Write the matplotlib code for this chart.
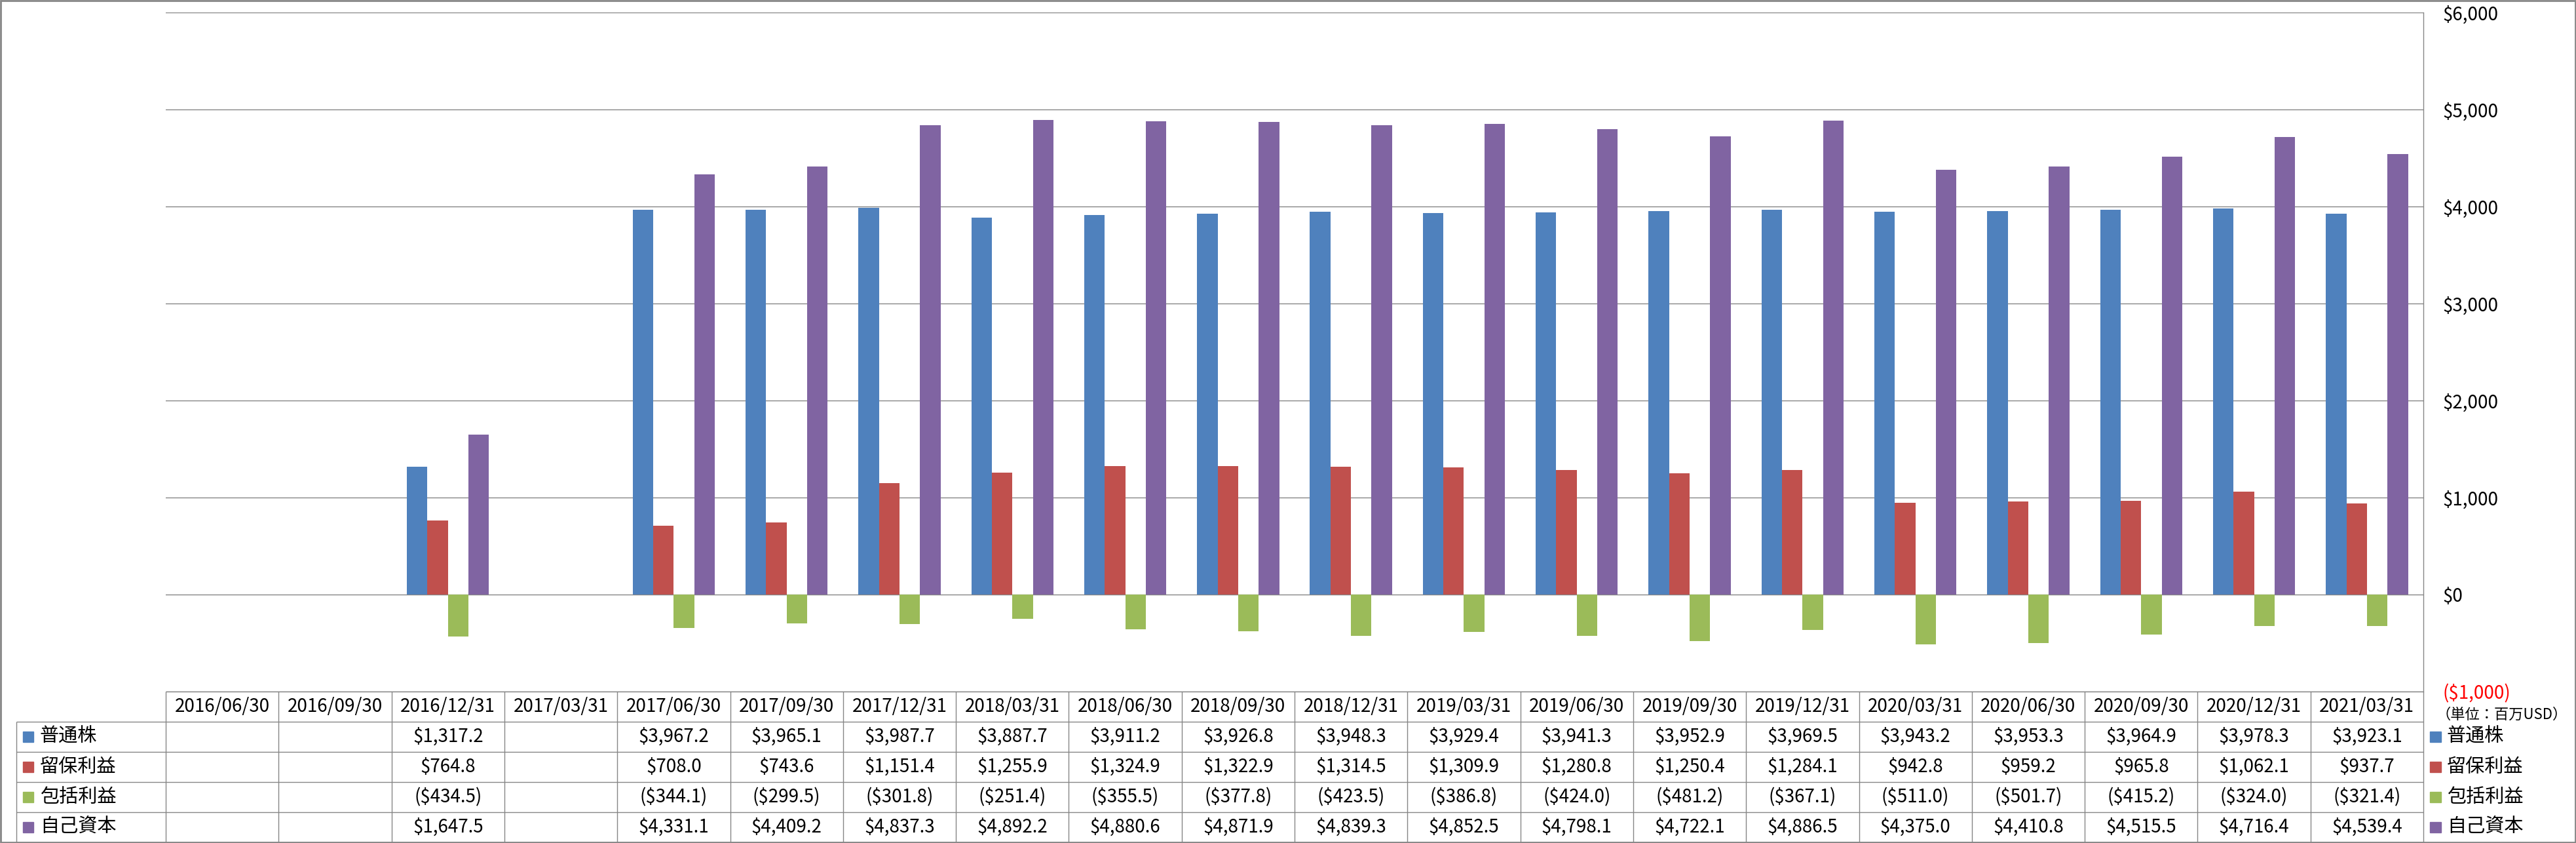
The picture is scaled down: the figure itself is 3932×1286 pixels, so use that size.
import numpy as np
import matplotlib.pyplot as plt
from matplotlib.ticker import FuncFormatter
from matplotlib.patches import Rectangle

plt.rcParams['font.family'] = ['Noto Sans CJK JP', 'DejaVu Sans']
plt.rcParams['text.parse_math'] = False

# データ (単位: 百万USD)
dates = ['2016/06/30', '2016/09/30', '2016/12/31', '2017/03/31', '2017/06/30',
         '2017/09/30', '2017/12/31', '2018/03/31', '2018/06/30', '2018/09/30',
         '2018/12/31', '2019/03/31', '2019/06/30', '2019/09/30', '2019/12/31',
         '2020/03/31', '2020/06/30', '2020/09/30', '2020/12/31', '2021/03/31']
nan = np.nan
common_stock = [nan, nan, 1317.2, nan, 3967.2, 3965.1, 3987.7, 3887.7, 3911.2, 3926.8,
                3948.3, 3929.4, 3941.3, 3952.9, 3969.5, 3943.2, 3953.3, 3964.9, 3978.3, 3923.1]
retained = [nan, nan, 764.8, nan, 708.0, 743.6, 1151.4, 1255.9, 1324.9, 1322.9,
            1314.5, 1309.9, 1280.8, 1250.4, 1284.1, 942.8, 959.2, 965.8, 1062.1, 937.7]
comprehensive = [nan, nan, -434.5, nan, -344.1, -299.5, -301.8, -251.4, -355.5, -377.8,
                 -423.5, -386.8, -424.0, -481.2, -367.1, -511.0, -501.7, -415.2, -324.0, -321.4]
equity = [nan, nan, 1647.5, nan, 4331.1, 4409.2, 4837.3, 4892.2, 4880.6, 4871.9,
          4839.3, 4852.5, 4798.1, 4722.1, 4886.5, 4375.0, 4410.8, 4515.5, 4716.4, 4539.4]

series_names = ['普通株', '留保利益', '包括利益', '自己資本']
series = [common_stock, retained, comprehensive, equity]
colors = ['#4F81BD', '#C0504D', '#9BBB59', '#8064A2']
yticks = [-1000, 0, 1000, 2000, 3000, 4000, 5000, 6000]

GRAY = '#868686'
W, H = 3932, 1286


def px(x0, y0, x1, y1):
    # ピクセル座標の箱 -> figure座標
    return [x0 / W, 1 - y1 / H, (x1 - x0) / W, (y1 - y0) / H]


def money(v, pos=None):
    if np.isnan(v):
        return ''
    if v < 0:
        return '(${:,.1f})'.format(-v) if pos is None else '(${:,.0f})'.format(-v)
    return '${:,.1f}'.format(v) if pos is None else '${:,.0f}'.format(v)


fig = plt.figure(figsize=(W / 100, H / 100), dpi=100)

n = len(dates)
x = np.arange(n)
width = 1 / 5.5

# 棒グラフ
ax = fig.add_axes(px(253, 19, 3699, 1055))
for j, (vals, c) in enumerate(zip(series, colors)):
    ax.bar(x + (j - 1.5) * width, vals, width, color=c, zorder=2)
ax.set_xlim(-0.5, n - 0.5)
ax.set_ylim(-1000, 6000)
ax.set_yticks(yticks)
ax.yaxis.set_major_formatter(FuncFormatter(money))
ax.yaxis.tick_right()
ax.tick_params(axis='y', length=0, pad=21, labelsize=20)
ax.set_xticks([])
ax.grid(axis='y', color=GRAY, lw=1.0, zorder=0)
ax.set_axisbelow(True)
for s in ['left', 'top', 'bottom']:
    ax.spines[s].set_visible(False)
ax.spines['right'].set_color(GRAY)
ax.spines['right'].set_linewidth(1.0)
for t, v in zip(ax.yaxis.get_major_ticks(), yticks):
    if v < 0:
        t.label2.set_color('#FF0000')

# データテーブル
cat_w = (3699 - 253) / n
left = -0.5 - (253 - 25) / cat_w
tab = fig.add_axes(px(25, 1055, 3699, 1285))
tab.set_xlim(left, n - 0.5)
tab.set_ylim(5, 0)
tab.axis('off')
tab.hlines(0, -0.5, n - 0.5, color=GRAY, lw=1.0, clip_on=False)
tab.hlines([1, 2, 3, 4, 5], left, n - 0.5, color=GRAY, lw=1.0, clip_on=False)
tab.vlines(np.arange(n + 1) - 0.5, 0, 5, color=GRAY, lw=1.0, clip_on=False)
tab.vlines(left, 1, 5, color=GRAY, lw=1.0, clip_on=False)
for i, d in enumerate(dates):
    tab.text(i, 0.5, d, ha='center', va='center', fontsize=20)
for r, vals in enumerate(series):
    for i, v in enumerate(vals):
        tab.text(i, r + 1.5, money(v), ha='center', va='center', fontsize=20)

# 凡例・枠 (ピクセル座標)
ov = fig.add_axes([0, 0, 1, 1])
ov.set_xlim(0, W)
ov.set_ylim(H, 0)
ov.axis('off')
for r, (name, c) in enumerate(zip(series_names, colors)):
    yc = 1055 + 46 * (r + 1) + 23
    ov.add_patch(Rectangle((35, yc - 8), 16, 16, color=c))
    ov.text(61, yc, name, ha='left', va='center', fontsize=21)
    ov.add_patch(Rectangle((3709, yc - 8), 17, 16, color=c))
    ov.text(3735, yc, name, ha='left', va='center', fontsize=21)
ov.text(3718, 1090, '（単位：百万USD）', ha='left', va='center', fontsize=16)
ov.add_patch(Rectangle((1, 1), W - 2, H - 2, fill=False, edgecolor=GRAY, lw=2.0))

fig.savefig('out.png', dpi=100)
